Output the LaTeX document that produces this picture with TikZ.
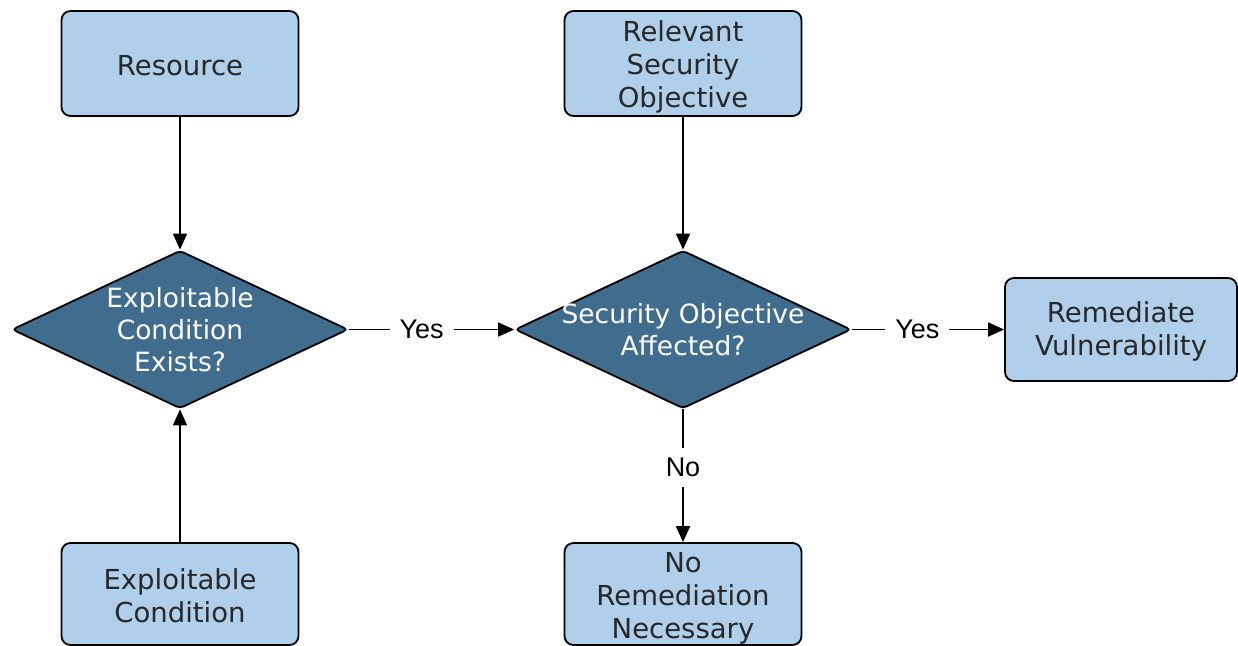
\documentclass[tikz,border=0pt]{standalone}
\usepackage{fontspec}
\setmainfont{DejaVu Sans}
\newfontfamily\labelfont{Liberation Sans}
\usetikzlibrary{shapes.geometric,arrows.meta}
\definecolor{boxfill}{RGB}{175,207,234}
\definecolor{decfill}{RGB}{64,108,142}
\definecolor{boxtext}{RGB}{40,40,40}
\begin{document}
\begin{tikzpicture}[x=1pt,y=-1pt,
  proc/.style={draw=black, line width=1.8pt, fill=boxfill, rounded corners=9pt,
    minimum width=237pt, minimum height=105pt, inner sep=0pt},
  proctext/.style={text=boxtext, font=\fontsize{27.5}{33}\selectfont, align=center, inner sep=0pt},
  dec/.style={diamond, draw=black, line width=1.8pt, fill=decfill,
    minimum width=336pt, minimum height=158pt, inner sep=0pt, rounded corners=4pt},
  dectext/.style={text=white, font=\fontsize{26.5}{32}\selectfont, align=center, inner sep=0pt},
  flow/.style={line width=1.8pt, -{Triangle[length=16pt,width=14pt]}},
  lbl/.style={fill=white, font=\labelfont\fontsize{27}{30}\selectfont, inner xsep=10pt, inner ysep=10pt}
]
\useasboundingbox (0,0) rectangle (1238,645);

% process boxes
\node[proc] (res) at (180,63.5) {};
\node[proctext] (resT) at ([yshift=-2pt]res.center) {Resource};
\node[proc] (obj) at (683,63.5) {};
\node[proctext] (objT) at ([yshift=-3pt]obj.center) {Relevant\\Security\\Objective};
\node[proc, minimum height=102pt] (cond) at (180,594) {};
\node[proctext] (condT) at ([yshift=-2pt]cond.center) {Exploitable\\Condition};
\node[proc, minimum height=102pt] (none) at (683,594) {};
\node[proctext] (noneT) at ([yshift=-4pt]none.center) {No\\Remediation\\Necessary};
\node[proc, minimum width=232pt, minimum height=103pt] (fix) at (1121,329.5) {};
\node[proctext] (fixT) at ([yshift=-2pt]fix.center) {Remediate\\Vulnerability};

% decisions
\node[dec] (d1) at (180,329.5) {};
\node[dectext] (d1T) at (d1.center) {Exploitable\\Condition\\Exists?};
\node[dec] (d2) at (683,329.5) {};
\node[dectext] (d2T) at (d2.center) {Security Objective\\Affected?};

% connectors
\draw[flow] (res) -- (d1);
\draw[flow] (cond) -- (d1);
\draw[flow] (obj) -- (d2);
\draw[flow] (d1) -- node[lbl, pos=0.44] {Yes} (d2);
\draw[flow] (d2) -- node[lbl, pos=0.43] {Yes} (fix);
\draw[flow] (d2) -- node[lbl, pos=0.44, inner xsep=4pt] {No} (none);
\end{tikzpicture}
\end{document}
